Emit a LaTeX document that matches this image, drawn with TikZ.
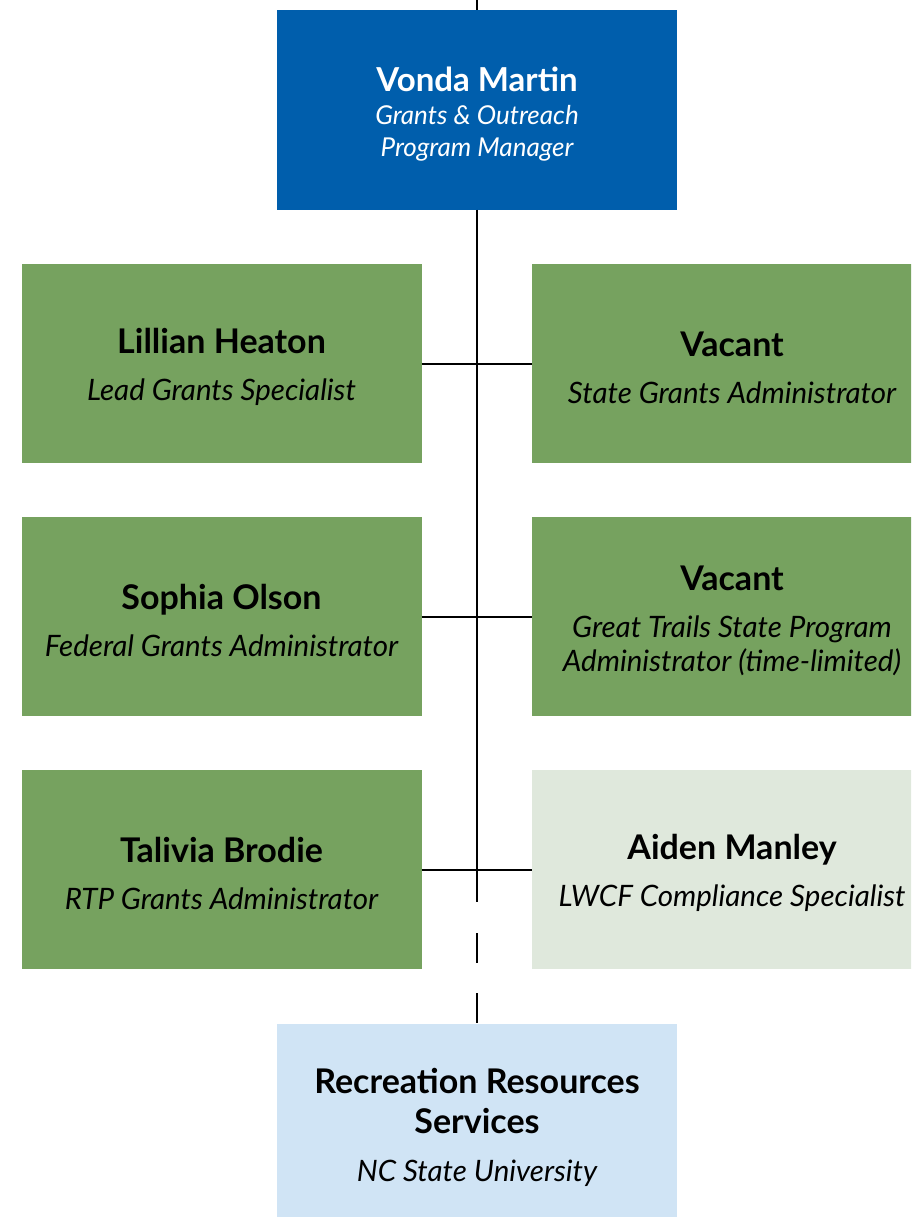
\documentclass[tikz,border=0pt]{standalone}
\usepackage{fontspec}
\setmainfont{Lato}
\usepackage{xcolor}
\usetikzlibrary{calc}

\definecolor{bossblue}{HTML}{005EAC}
\definecolor{staffgreen}{HTML}{76A25F}
\definecolor{palegreen}{HTML}{DFE8DC}
\definecolor{paleblue}{HTML}{D0E4F5}

\newcommand{\lead}{\rule{0pt}{33pt}}
\newcommand{\pname}[1]{{\fontsize{34}{33}\selectfont\bfseries #1}}
\newcommand{\prole}[1]{{\fontsize{29.5}{33}\selectfont\itshape #1}}
\newcommand{\bname}[1]{{\fontsize{33}{33}\selectfont\bfseries #1}}
\newcommand{\brole}[1]{{\fontsize{26}{33}\selectfont\itshape #1}}

\tikzset{
	unit/.style={rectangle,minimum width=400pt,minimum height=199pt,inner sep=0pt,align=center,font=\fontsize{29}{33}\selectfont},
	boss/.style={unit,fill=bossblue,text=white},
	staff/.style={unit,fill=staffgreen,text=black},
	temp/.style={unit,fill=palegreen,text=black},
	partner/.style={unit,fill=paleblue,text=black},
	link/.style={line width=2pt,black}
}

\begin{document}
\begin{tikzpicture}[x=1pt,y=-1pt]
		\useasboundingbox (0,0) rectangle (911,1217);
		\clip (0,0) rectangle (911,1217);
		\node[boss] (vm) at (477,110) {\lead\bname{Vonda Martin}\\[0pt] \brole{Grants \& Outreach}\\[-1pt] \brole{Program Manager}};
		% left column
		\node[staff] (lh) at (221.5,363.5) {\lead\pname{Lillian Heaton}\\[14pt] \prole{Lead Grants Specialist}};
		\node[staff] (so) at (221.5,616.5) {\lead\pname{Sophia Olson}\\[14pt] \prole{Federal Grants Administrator}};
		\node[staff] (tb) at (221.5,869.5) {\lead\pname{Talivia Brodie}\\[14pt] \prole{RTP Grants Administrator}};
		% right column
		\node[staff] (v1) at (732,363.5) {\lead\pname{Vacant}\\[14pt] \prole{State Grants Administrator}};
		\node[staff] (v2) at (732,616.5) {\lead\pname{Vacant}\\[14pt] \prole{Great Trails State Program}\\[1pt] \prole{Administrator (time-limited)}};
		\node[temp] (am) at (732,869.5) {\lead\pname{Aiden Manley}\\[14pt] \prole{LWCF Compliance Specialist}};
		\node[partner] (rrs) at (477,1123.5) {\lead\pname{Recreation Resources}\\[7pt] \pname{Services}\\[15pt] \prole{NC State University}};
		
		\coordinate (top) at (477,0);
		\coordinate (stem) at (477,902);
		\coordinate (dash) at (477,933);
		\draw[link] (top) -- (vm.north);
		\draw[link] (vm.south) -- (stem);
		\draw[link,dash pattern=on 30pt off 30pt] (dash) -- (rrs.north);
		\draw[link] (lh.east) -- (v1.west);
		\draw[link] (so.east) -- (v2.west);
		\draw[link] (tb.east) -- (am.west);
	\end{tikzpicture}
\end{document}
